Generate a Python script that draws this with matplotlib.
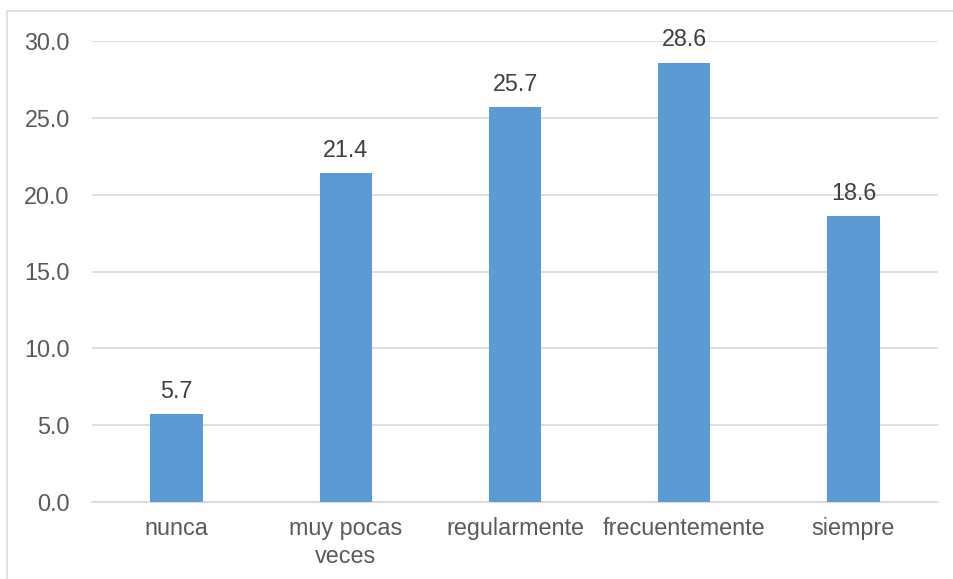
import matplotlib
matplotlib.use('Agg')
import matplotlib.pyplot as plt
from matplotlib.patches import Rectangle

categories = ['nunca', 'muy pocas\nveces', 'regularmente', 'frecuentemente', 'siempre']
values = [5.7, 21.4, 25.7, 28.6, 18.6]
yticks = [0, 5, 10, 15, 20, 25, 30]

plt.rcParams['font.family'] = ['Liberation Sans', 'DejaVu Sans']
TXT = '#595959'
FS = 16.8

fig = plt.figure(figsize=(9.54, 5.79), dpi=100)
ax = fig.add_axes([92 / 954, 1 - 502 / 579, (938 - 92) / 954, (502 - 41) / 579])

# outer chart border (top/left visible only)
fig.patches.append(Rectangle((7 / 954, -0.05), 1.2, 1 - 11 / 579 + 0.05,
                             transform=fig.transFigure, fill=False,
                             edgecolor='#d9d9d9', lw=1.2))

x = range(len(categories))
ax.bar(x, values, width=0.31, color='#5b9bd5', zorder=3)
for xi, v in zip(x, values):
    ax.annotate(f'{v:.1f}', (xi, v), xytext=(0, 8), textcoords='offset points',
                ha='center', va='bottom', fontsize=FS, color='#404040')

ax.set_xlim(-0.5, len(categories) - 0.5)
ax.set_ylim(0, 30)
ax.set_yticks(yticks)
ax.set_yticklabels([f'{t:.1f}' for t in yticks])
ax.set_xticks(list(x))
ax.set_xticklabels(categories, linespacing=1.25)
ax.tick_params(axis='both', length=0, labelsize=FS, colors=TXT)
ax.tick_params(axis='y', pad=16)
ax.tick_params(axis='x', pad=11)
ax.grid(axis='y', color='#d9d9d9', lw=1.2, zorder=0)
for s in ['top', 'right', 'left']:
    ax.spines[s].set_visible(False)
ax.spines['bottom'].set_color('#d9d9d9')
ax.spines['bottom'].set_linewidth(1.2)

fig.savefig('out.png', dpi=100)
